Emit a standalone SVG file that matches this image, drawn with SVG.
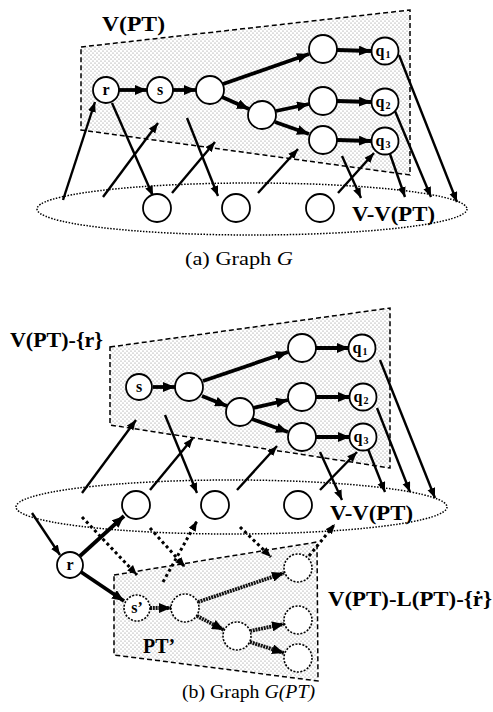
<svg xmlns="http://www.w3.org/2000/svg" width="493" height="712" viewBox="0 0 493 712">
  <defs>
    <!-- stipple fill for the vertex-set regions -->
    <pattern id="dots" width="4" height="4" patternUnits="userSpaceOnUse">
      <rect width="4" height="4" fill="#fff"/>
      <circle cx="1" cy="1" r="0.5" fill="#666"/>
      <circle cx="3" cy="3" r="0.5" fill="#666"/>
    </pattern>
    <marker id="ah" markerUnits="userSpaceOnUse" markerWidth="13" markerHeight="10" refX="12" refY="5" orient="auto">
      <path d="M0,0 L12,5 L0,10 z" fill="#000"/>
    </marker>
    <marker id="ahs" markerUnits="userSpaceOnUse" markerWidth="11" markerHeight="9" refX="10" refY="4" orient="auto">
      <path d="M0,0 L10,4 L0,8 z" fill="#000"/>
    </marker>
  </defs>
  <style>
    .region { fill: url(#dots); stroke: #000; stroke-width: 1.5; stroke-dasharray: 5 3; }
    .rest { fill: none; stroke: #000; stroke-width: 1.5; stroke-dasharray: 1.5 1.5; }
    .node { fill: #fff; stroke: #000; stroke-width: 1.8; }
    .ghost { fill: #fff; stroke: #000; stroke-width: 1.6; stroke-dasharray: 2 1.5; }
    .tree { stroke: #000; stroke-width: 3.8; fill: none; marker-end: url(#ah); }
    .edge { stroke: #000; stroke-width: 2.4; fill: none; marker-end: url(#ahs); }
    .dash { stroke: #000; stroke-width: 3; fill: none; stroke-dasharray: 3 3; marker-end: url(#ahs); }
    .hatch { stroke: #111; stroke-width: 3.8; fill: none; stroke-dasharray: 2 0.8; marker-end: url(#ah); }
    .lbl { font-family: "Liberation Serif", "Times New Roman", serif; font-weight: bold; fill: #000; }
    .nl { font-family: "Liberation Serif", "Times New Roman", serif; font-weight: bold; font-size: 16px; text-anchor: middle; fill: #000; }
    .cap { font-family: "Liberation Serif", "Times New Roman", serif; font-size: 18px; fill: #000; }
  </style>

  <!-- ===== (a) Graph G ===== -->
  <polygon class="region" points="81,47 410,10 410,175 81,130"/>
  <ellipse class="rest" cx="252" cy="209" rx="215" ry="26"/>

  <g id="edges-a">
    <line class="tree" x1="119" y1="90" x2="147" y2="90"/>
    <line class="tree" x1="173" y1="90" x2="196" y2="90"/>
    <line class="tree" x1="223" y1="84" x2="309" y2="54"/>
    <line class="tree" x1="337" y1="50" x2="371" y2="51"/>
    <line class="tree" x1="222" y1="97" x2="249" y2="109"/>
    <line class="tree" x1="276" y1="111" x2="309" y2="104"/>
    <line class="tree" x1="275" y1="122" x2="309" y2="134"/>
    <line class="tree" x1="337" y1="101" x2="371" y2="102"/>
    <line class="tree" x1="337" y1="140" x2="371" y2="141"/>
    <line class="edge" x1="63" y1="200" x2="95" y2="102"/>
    <line class="edge" x1="112" y1="103" x2="153" y2="196"/>
    <line class="edge" x1="103" y1="197" x2="158" y2="123"/>
    <line class="edge" x1="172" y1="193" x2="215" y2="142"/>
    <line class="edge" x1="187" y1="118" x2="218" y2="196"/>
    <line class="edge" x1="258" y1="193" x2="298" y2="149"/>
    <line class="edge" x1="342" y1="156" x2="361" y2="198"/>
    <line class="edge" x1="338" y1="193" x2="374" y2="153"/>
    <line class="edge" x1="390" y1="154" x2="405" y2="197"/>
    <line class="edge" x1="395" y1="111" x2="431" y2="197"/>
    <line class="edge" x1="399" y1="55" x2="457" y2="202"/>
  </g>

  <g id="a-r"><circle class="node" cx="106" cy="90" r="13"/><text class="nl" x="106" y="95">r</text></g>
  <g id="a-s"><circle class="node" cx="160" cy="90" r="13"/><text class="nl" x="160" y="95">s</text></g>
  <g id="a-n3"><circle class="node" cx="210" cy="90" r="14"/></g>
  <g id="a-top"><circle class="node" cx="323" cy="49" r="14"/></g>
  <g id="a-q1"><circle class="node" cx="385" cy="51" r="13.5"/><text class="nl" x="383" y="56" font-size="17">q<tspan font-size="10" dx="1" dy="2">1</tspan></text></g>
  <g id="a-mid"><circle class="node" cx="262" cy="115" r="14"/></g>
  <g id="a-mu"><circle class="node" cx="323" cy="101" r="14"/></g>
  <g id="a-q2"><circle class="node" cx="385" cy="102" r="13.5"/><text class="nl" x="383" y="107" font-size="17">q<tspan font-size="10" dx="1" dy="2">2</tspan></text></g>
  <g id="a-low"><circle class="node" cx="323" cy="140" r="14"/></g>
  <g id="a-q3"><circle class="node" cx="385" cy="141" r="13.5"/><text class="nl" x="383" y="146" font-size="17">q<tspan font-size="10" dx="1" dy="2">3</tspan></text></g>
  <g id="a-b1"><circle class="node" cx="157" cy="208" r="14"/></g>
  <g id="a-b2"><circle class="node" cx="236" cy="208" r="14"/></g>
  <g id="a-b3"><circle class="node" cx="320" cy="208" r="14"/></g>

  <text class="lbl" x="102" y="31" font-size="22" textLength="63" lengthAdjust="spacingAndGlyphs">V(PT)</text>
  <text class="lbl" x="352" y="221" font-size="22" textLength="83" lengthAdjust="spacingAndGlyphs">V-V(PT)</text>
  <text class="cap" x="185" y="265" textLength="108" lengthAdjust="spacingAndGlyphs">(a) Graph  <tspan font-style="italic">G</tspan></text>

  <!-- ===== (b) Graph G(PT) ===== -->
  <polygon class="region" points="110,347 390,308 390,468 110,425"/>
  <ellipse class="rest" cx="231.5" cy="507" rx="215.5" ry="27"/>
  <polygon class="region" points="114,575 317,542 318,681 114,655"/>

  <g id="edges-b">
    <line class="tree" x1="153" y1="387" x2="175" y2="387"/>
    <line class="tree" x1="203" y1="381" x2="288" y2="352"/>
    <line class="tree" x1="316" y1="348" x2="349" y2="348"/>
    <line class="tree" x1="202" y1="396" x2="227" y2="406"/>
    <line class="tree" x1="253" y1="408" x2="288" y2="400"/>
    <line class="tree" x1="252" y1="419" x2="288" y2="432"/>
    <line class="tree" x1="316" y1="397" x2="350" y2="397"/>
    <line class="tree" x1="316" y1="437" x2="350" y2="437"/>
    <line class="edge" x1="82" y1="493" x2="136" y2="420"/>
    <line class="edge" x1="150" y1="490" x2="193" y2="438"/>
    <line class="edge" x1="165" y1="415" x2="197" y2="493"/>
    <line class="edge" x1="237" y1="490" x2="277" y2="446"/>
    <line class="edge" x1="320" y1="452" x2="342" y2="500"/>
    <line class="edge" x1="320" y1="490" x2="357" y2="452"/>
    <line class="edge" x1="368" y1="449" x2="385" y2="492"/>
    <line class="edge" x1="377" y1="408" x2="410" y2="492"/>
    <line class="edge" x1="380" y1="360" x2="435" y2="498"/>
    <line class="edge" x1="32" y1="513" x2="60" y2="555"/>
    <line class="tree" x1="80" y1="556" x2="124" y2="516"/>
    <line class="tree" x1="81" y1="572" x2="124" y2="601"/>
    <line class="dash" x1="82" y1="517" x2="137" y2="575"/>
    <line class="dash" x1="150" y1="528" x2="185" y2="567"/>
    <line class="dash" x1="163" y1="582" x2="197" y2="521"/>
    <line class="dash" x1="240" y1="527" x2="271" y2="557"/>
    <line class="dash" x1="309" y1="556" x2="335" y2="524"/>
    <line class="hatch" x1="150" y1="608" x2="171" y2="608"/>
    <line class="hatch" x1="198" y1="602" x2="284" y2="573"/>
    <line class="hatch" x1="197" y1="616" x2="224" y2="630"/>
    <line class="hatch" x1="250" y1="631" x2="284" y2="624"/>
    <line class="hatch" x1="250" y1="642" x2="284" y2="653"/>
  </g>

  <g id="b-s"><circle class="node" cx="139" cy="387" r="13"/><text class="nl" x="139" y="392">s</text></g>
  <g id="b-n3"><circle class="node" cx="189" cy="387" r="14"/></g>
  <g id="b-top"><circle class="node" cx="302" cy="348" r="14"/></g>
  <g id="b-q1"><circle class="node" cx="362" cy="348" r="13.5"/><text class="nl" x="360" y="353" font-size="17">q<tspan font-size="10" dx="1" dy="2">1</tspan></text></g>
  <g id="b-mid"><circle class="node" cx="240" cy="412" r="14"/></g>
  <g id="b-mu"><circle class="node" cx="302" cy="397" r="14"/></g>
  <g id="b-q2"><circle class="node" cx="363" cy="397" r="13.5"/><text class="nl" x="361" y="402" font-size="17">q<tspan font-size="10" dx="1" dy="2">2</tspan></text></g>
  <g id="b-low"><circle class="node" cx="302" cy="437" r="14"/></g>
  <g id="b-q3"><circle class="node" cx="363" cy="437" r="13.5"/><text class="nl" x="361" y="442" font-size="17">q<tspan font-size="10" dx="1" dy="2">3</tspan></text></g>
  <g id="b-b1"><circle class="node" cx="136" cy="505" r="14"/></g>
  <g id="b-b2"><circle class="node" cx="215" cy="505" r="14"/></g>
  <g id="b-b3"><circle class="node" cx="298" cy="505" r="14"/></g>
  <g id="b-r"><circle class="node" cx="70" cy="565" r="13"/><text class="nl" x="70" y="570">r</text></g>
  <g id="b-s2"><circle class="ghost" cx="137" cy="608" r="13"/><text class="nl" x="137" y="613">s’</text></g>
  <g id="b-n3p"><circle class="ghost" cx="185" cy="608" r="14"/></g>
  <g id="b-topp"><circle class="ghost" cx="298" cy="568" r="14"/></g>
  <g id="b-midp"><circle class="ghost" cx="237" cy="636" r="14"/></g>
  <g id="b-mup"><circle class="ghost" cx="298" cy="620" r="14"/></g>
  <g id="b-lowp"><circle class="ghost" cx="298" cy="658" r="14"/></g>

  <text class="lbl" x="10" y="347" font-size="22" textLength="93" lengthAdjust="spacingAndGlyphs">V(PT)-{r}</text>
  <text class="lbl" x="330" y="520" font-size="22" textLength="83" lengthAdjust="spacingAndGlyphs">V-V(PT)</text>
  <text class="lbl" x="328" y="606" font-size="22" textLength="164" lengthAdjust="spacingAndGlyphs">V(PT)-L(PT)-{ṙ}</text>
  <text class="lbl" x="143" y="653" font-size="21" textLength="32" lengthAdjust="spacingAndGlyphs">PT’</text>
  <text class="cap" x="182" y="698" textLength="133" lengthAdjust="spacingAndGlyphs">(b) Graph <tspan font-style="italic">G(PT)</tspan></text>
</svg>
